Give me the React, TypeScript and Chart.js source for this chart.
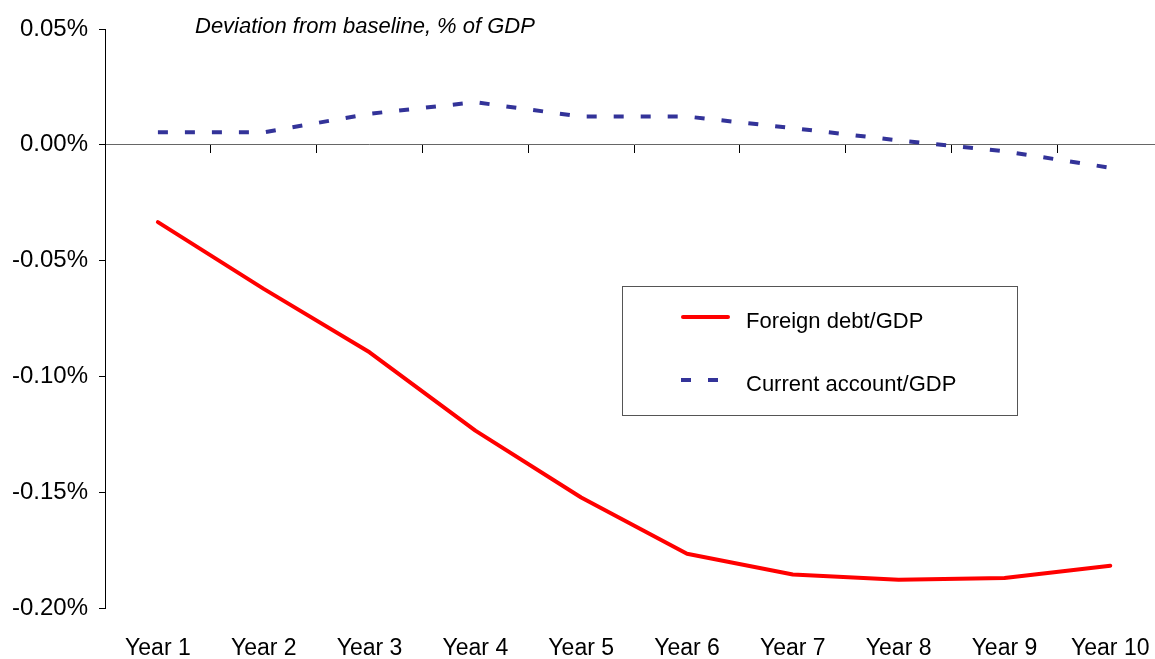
import { useEffect, useRef } from 'react';
import { Chart, registerables } from 'chart.js';

Chart.register(...registerables);

// Simulation output: deviation from baseline, % of GDP
const years = ['Year 1', 'Year 2', 'Year 3', 'Year 4', 'Year 5', 'Year 6', 'Year 7', 'Year 8', 'Year 9', 'Year 10'];
const foreignDebt = [-0.0334, -0.0622, -0.0896, -0.1234, -0.1523, -0.1766, -0.1855, -0.1878, -0.187, -0.1818];
const currentAccount = [0.0054, 0.0054, 0.0134, 0.0184, 0.0122, 0.0122, 0.0072, 0.0019, -0.0028, -0.0099];
const yTicks = [-0.2, -0.15, -0.1, -0.05, 0, 0.05];

const seriesNames = ['Foreign debt/GDP', 'Current account/GDP'];
const subtitle = 'Deviation from baseline, % of GDP';

const FONT = '"Liberation Sans", Arial, Helvetica, sans-serif';
const RED = '#ff0000';
const BLUE = '#333399';
const DASH = [10, 17];

const CANVAS_W = 1177;
const CANVAS_H = 659;

// Draws the italic subtitle and the boxed legend inside the plot
const overlayPlugin = {
  id: 'overlay',
  afterDraw(chart: Chart) {
    const ctx = chart.ctx;
    ctx.save();
    ctx.fillStyle = '#000';
    ctx.textBaseline = 'middle';
    ctx.textAlign = 'left';
    ctx.font = `italic 22px ${FONT}`;
    ctx.fillText(subtitle, 195, 27);

    // legend frame
    ctx.strokeStyle = '#555';
    ctx.lineWidth = 1;
    ctx.strokeRect(622.5, 286.5, 395, 129);

    // solid sample
    ctx.strokeStyle = RED;
    ctx.lineWidth = 4;
    ctx.lineCap = 'round';
    ctx.beginPath();
    ctx.moveTo(683, 317);
    ctx.lineTo(728, 317);
    ctx.stroke();

    // dashed sample
    ctx.strokeStyle = BLUE;
    ctx.lineCap = 'butt';
    ctx.setLineDash(DASH);
    ctx.beginPath();
    ctx.moveTo(681, 380);
    ctx.lineTo(719, 380);
    ctx.stroke();
    ctx.setLineDash([]);

    ctx.font = `22px ${FONT}`;
    ctx.fillText(seriesNames[0], 746, 322);
    ctx.fillText(seriesNames[1], 746, 385);
    ctx.restore();
  },
};

export default function App() {
  const canvasRef = useRef<HTMLCanvasElement | null>(null);

  useEffect(() => {
    const canvas = canvasRef.current;
    if (!canvas) return;
    const chart = new Chart(canvas, {
      type: 'line',
      data: {
        labels: years,
        datasets: [
          {
            label: seriesNames[0],
            data: foreignDebt,
            borderColor: RED,
            backgroundColor: RED,
            borderWidth: 4,
            pointRadius: 0,
            tension: 0,
            borderCapStyle: 'round',
            borderJoinStyle: 'round',
            xAxisID: 'x',
            yAxisID: 'y',
          },
          {
            label: seriesNames[1],
            data: currentAccount,
            borderColor: BLUE,
            backgroundColor: BLUE,
            borderWidth: 4,
            borderDash: DASH,
            pointRadius: 0,
            tension: 0,
            borderCapStyle: 'butt',
            xAxisID: 'x',
            yAxisID: 'y',
          },
        ],
      },
      options: {
        responsive: false,
        animation: false,
        devicePixelRatio: 1,
        layout: { padding: { top: 29, right: CANVAS_W - 1167, bottom: 0, left: 0 } },
        plugins: {
          legend: { display: false },
          tooltip: { enabled: false },
          title: { display: false },
        },
        scales: {
          // zero line with boundary tick marks
          x: {
            type: 'category',
            position: { y: 0 },
            offset: true,
            grid: {
              display: true,
              offset: true,
              drawOnChartArea: false,
              drawTicks: true,
              tickLength: 8,
              color: '#000',
              lineWidth: 1,
            },
            border: { display: true, color: '#666', width: 1 },
            ticks: { display: false },
          },
          // category labels along the bottom
          x2: {
            type: 'category',
            position: 'bottom',
            offset: true,
            labels: years,
            grid: { display: false, drawTicks: false },
            border: { display: false },
            ticks: {
              color: '#000',
              font: { family: FONT, size: 23 },
              padding: 27,
              maxRotation: 0,
              autoSkip: false,
            },
            afterFit: (scale: any) => {
              scale.height = 51;
            },
          },
          y: {
            type: 'linear',
            min: -0.2,
            max: 0.05,
            afterBuildTicks: (scale: any) => {
              scale.ticks = yTicks.map((v) => ({ value: v }));
            },
            afterFit: (scale: any) => {
              scale.width = 105;
            },
            grid: {
              display: true,
              drawOnChartArea: false,
              drawTicks: true,
              tickLength: 6,
              color: '#000',
            },
            border: { display: true, color: '#000', width: 1 },
            ticks: {
              color: '#000',
              padding: 11,
              font: { family: FONT, size: 24 },
              callback: (v: any) => `${Number(v).toFixed(2)}%`,
            },
          },
        },
      },
      plugins: [overlayPlugin],
    });
    return () => chart.destroy();
  }, []);

  return (
    <div
      style={{
        position: 'fixed',
        left: 0,
        top: 0,
        width: 1155,
        height: 659,
        overflow: 'hidden',
        background: '#fff',
      }}
    >
      <canvas
        ref={canvasRef}
        width={CANVAS_W}
        height={CANVAS_H}
        style={{ display: 'block', width: CANVAS_W, height: CANVAS_H }}
      />
    </div>
  );
}
